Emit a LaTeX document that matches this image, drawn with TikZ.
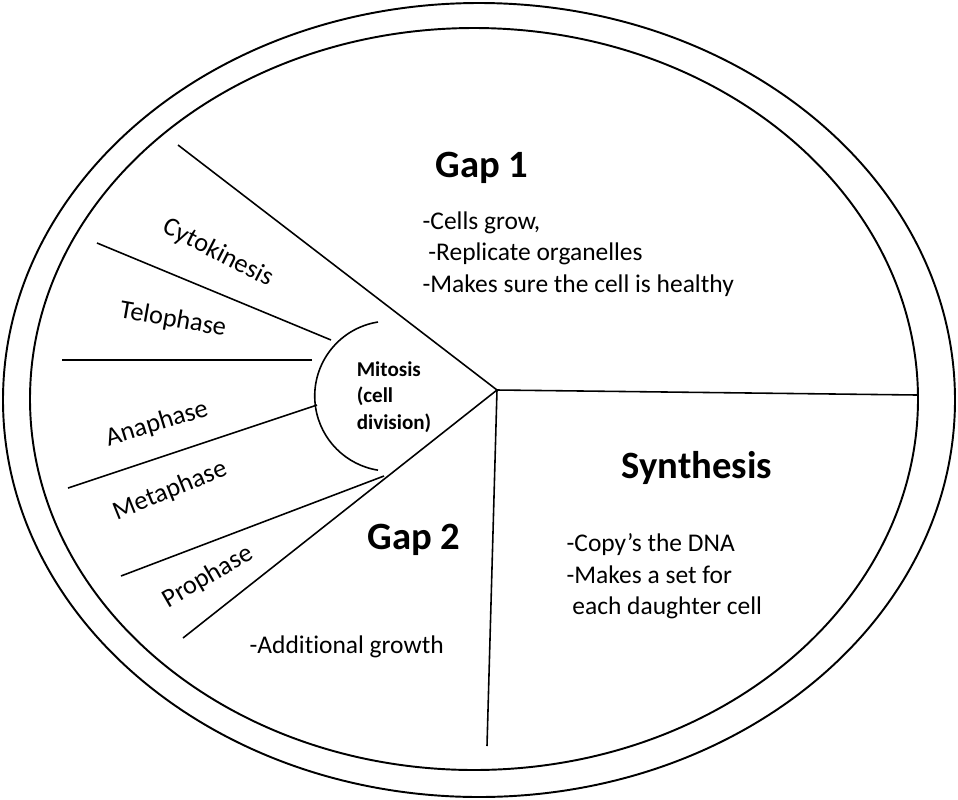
\documentclass[tikz,border=0pt]{standalone}
\usepackage{fontspec}
\setmainfont{Carlito}[Ligatures={NoCommon}]
\tikzset{
  phase/.style={font=\fontsize{15}{17}\selectfont, inner sep=1pt},
  title/.style={font=\fontsize{22}{26}\selectfont\bfseries},
  notes/.style={font=\fontsize{14.5}{18}\selectfont, align=left},
  rim/.style={line width=1.1pt}
}
\begin{document}
\begin{tikzpicture}[x=0.02cm, y=-0.02cm, line width=0.9pt]
  \useasboundingbox (0,0) rectangle (958,799);

  % outer rim
  \draw[rim] (479,400) ellipse [x radius=476, y radius=397];
  \draw[rim] (474,399) ellipse [x radius=444, y radius=371];

  % sector boundaries
  \coordinate (hub) at (497,390);
  \coordinate (g1) at (178,145);
  \coordinate (s1) at (917,395);
  \coordinate (s2) at (487,746);
  \coordinate (g2) at (183,638);
  \foreach \p in {g1,s1,s2,g2}{
    \draw (hub) -- (\p);
  }

  % mitosis hub
  \draw (378,322) arc[start angle=-99, end angle=-261, radius=75];
  \node[font=\fontsize{12}{15}\selectfont\bfseries, align=left] (mit) at (394,397) {Mitosis\\(cell\\division)};

  % mitosis phases
  \draw (331,340) -- (97,243);
  \draw (312,360) -- (62,360);
  \draw (317,405) -- (68,488);
  \draw (384,476) -- (121,576);

  \node[phase, rotate=-27] (cyto) at (218,253) {Cytokinesis};
  \node[phase, rotate=-10] (telo) at (173,320) {Telophase};
  \node[phase, rotate=17] (ana) at (157,424) {Anaphase};
  \node[phase, rotate=22] (meta) at (170,491) {Metaphase};
  \node[phase, rotate=30] (pro) at (208,577) {Prophase};

  % interphase
  \node[title] (gap1) at (482,168) {Gap 1};
  \node[notes, anchor=north west] (gap1txt) at (416,205) {-Cells grow,\\\ -Replicate organelles\\-Makes sure the cell is healthy};
  \node[title] (syn) at (697,468) {Synthesis};
  \node[notes, anchor=north west] (syntxt) at (560,527) {-Copy's the DNA\\-Makes a set for\\\ each daughter cell};
  \node[title] (gap2) at (414,540) {Gap 2};
  \node[notes, anchor=west] (gap2txt) at (243,647) {-Additional growth};
\end{tikzpicture}
\end{document}
